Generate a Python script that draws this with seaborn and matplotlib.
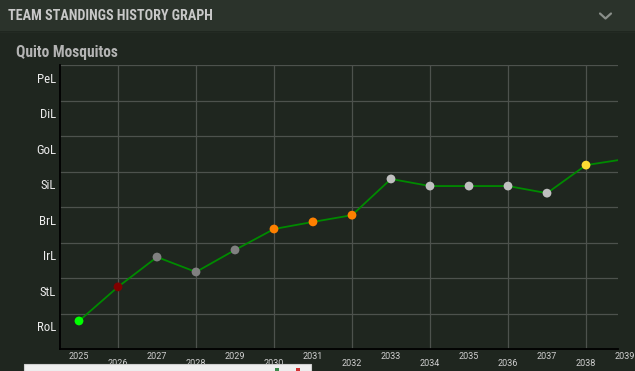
import numpy as np
import pandas as pd
import matplotlib
matplotlib.use('Agg')
import matplotlib.pyplot as plt
import matplotlib.transforms as mtransforms
import seaborn as sns
from matplotlib import font_manager
from matplotlib.patches import Rectangle
from matplotlib.lines import Line2D

# datos
leagues = ['RoL', 'StL', 'IrL', 'BrL', 'SiL', 'GoL', 'DiL', 'PeL']
league_colors = ['#00ff00', '#800000', '#808080', '#ff8000',
                 '#c0c0c0', '#ffdd33', '#b9f2ff', '#e5e4e2']
years = list(range(2025, 2040))
standing = [0.79, 1.75, 2.59, 2.17, 2.79, 3.38, 3.58, 3.77,
            4.79, 4.59, 4.59, 4.59, 4.39, 5.18, 5.35]

team = 'Quito Mosquitos'
title = 'TEAM STANDINGS HISTORY GRAPH'

df = pd.DataFrame({'year': years, 'standing': standing})
df['league'] = [leagues[int(v)] for v in standing]
palette = dict(zip(leagues, league_colors))


def weight_num(w):
    if isinstance(w, int):
        return w
    return font_manager.weight_dict.get(w, 400)


# buscamos una fuente estrecha con negrita
bold_narrow = {f.name for f in font_manager.fontManager.ttflist
               if ('Narrow' in f.name or 'Condensed' in f.name) and weight_num(f.weight) >= 600}
narrow = None
for cand in ['Roboto Condensed', 'Liberation Sans Narrow', 'DejaVu Sans Condensed']:
    if cand in bold_narrow:
        narrow = cand
        break
if narrow is None and bold_narrow:
    narrow = sorted(bold_narrow)[0]

sns.set_style('dark')
plt.rcParams['font.family'] = ['Roboto', 'DejaVu Sans']

bg = '#1f261f'
fig = plt.figure(figsize=(6.35, 3.71), dpi=100, facecolor=bg)

# barra de cabecera
fig.patches.append(Rectangle((0, 1 - 31 / 371), 1, 31 / 371, transform=fig.transFigure,
                             facecolor='#2b332b', edgecolor='none', zorder=0))
fig.add_artist(Line2D([0, 1], [1 - 31.5 / 371] * 2, color='#232a23', lw=1))
if narrow:
    fig.text(8 / 635, 1 - 16 / 371, title, family=narrow, weight='bold', fontsize=10.2,
             color='#c8c8c8', va='center', ha='left')
    fig.text(16 / 635, 1 - 52 / 371, team, family=narrow, weight='bold', fontsize=11.2,
             color='#b4b4b4', va='center', ha='left')
else:
    fig.text(8 / 635, 1 - 16 / 371, title, weight='bold', fontsize=9.2,
             color='#c8c8c8', va='center', ha='left')
    fig.text(16 / 635, 1 - 52 / 371, team, weight='bold', fontsize=8.6,
             color='#b4b4b4', va='center', ha='left')
fig.add_artist(Line2D([600 / 635, 605.5 / 635, 611 / 635],
                      [1 - 13.5 / 371, 1 - 18.5 / 371, 1 - 13.5 / 371],
                      color='#8a8f8a', lw=1.6))

ax = fig.add_axes([60 / 635, 1 - 349 / 371, 558 / 635, 284 / 371])
ax.set_facecolor(bg)

sns.lineplot(data=df, x='year', y='standing', color='#008a00', lw=1.3, ax=ax, zorder=2)
sns.scatterplot(data=df, x='year', y='standing', hue='league', palette=palette,
                s=40, edgecolor='none', legend=False, ax=ax, zorder=3)

ax.set_yticks(np.arange(len(leagues)) + 0.5, leagues)
ax.set_yticks(np.arange(len(leagues) + 1), minor=True)
odd = [y for y in years if y % 2 == 1]
even = [y for y in years if y % 2 == 0]
ax.set_xticks(odd, [str(y) for y in odd])
ax.set_xticks(even, [str(y) for y in even], minor=True)

# los limites despues de los ticks
ax.set_xlim(2025 - 19 / 39, 2025 + 539 / 39)
ax.set_ylim(0, len(leagues))

ax.tick_params(axis='y', which='major', length=0, pad=2.8, labelsize=9.2, labelcolor='#ececec')
ax.tick_params(axis='y', which='minor', length=0)
ax.tick_params(axis='x', which='major', length=0, pad=2, labelsize=6.5, labelcolor='#cfcfcf')
ax.tick_params(axis='x', which='minor', length=0, pad=7.5, labelsize=6.5, labelcolor='#cfcfcf')
shift = mtransforms.ScaledTranslation(0, 5 / 100, fig.dpi_scale_trans)
for lab in ax.get_yticklabels():
    if narrow:
        lab.set_family(narrow)
        lab.set_fontweight('normal')
    else:
        lab.set_fontweight('medium')
        lab.set_fontsize(8.2)
    lab.set_transform(lab.get_transform() + shift)

# el ultimo anyo queda fuera del eje pero su etiqueta se ve
ax.text(years[-1], 0, str(years[-1]), ha='center', va='top', fontsize=6.5,
        color='#cfcfcf', clip_on=False, family=['Roboto', 'DejaVu Sans'],
        transform=ax.get_xaxis_transform()
        + mtransforms.ScaledTranslation(0, -3 / 100, fig.dpi_scale_trans))

ax.grid(False)
ax.grid(which='minor', axis='y', color='#4d524d', lw=0.9)
ax.grid(which='minor', axis='x', color='#4d524d', lw=0.9)
ax.set_axisbelow(True)

for side in ['top', 'right']:
    ax.spines[side].set_visible(False)
for side in ['left', 'bottom']:
    ax.spines[side].set_visible(True)
    ax.spines[side].set_color('black')
    ax.spines[side].set_linewidth(1.3)
ax.set_xlabel('')
ax.set_ylabel('')

# caja blanca abajo (ventana emergente)
fig.patches.append(Rectangle((24 / 635, 0), 287 / 635, 7 / 371, transform=fig.transFigure,
                             facecolor='#efefef', edgecolor='#cfcfcf', lw=0.8, zorder=5))
fig.patches.append(Rectangle((275 / 635, 0), 4 / 635, 3 / 371, transform=fig.transFigure,
                             facecolor='#3a8a4a', edgecolor='none', zorder=6))
fig.patches.append(Rectangle((296 / 635, 0), 4 / 635, 3 / 371, transform=fig.transFigure,
                             facecolor='#d03030', edgecolor='none', zorder=6))

fig.savefig('out.png', dpi=100, facecolor=bg)
